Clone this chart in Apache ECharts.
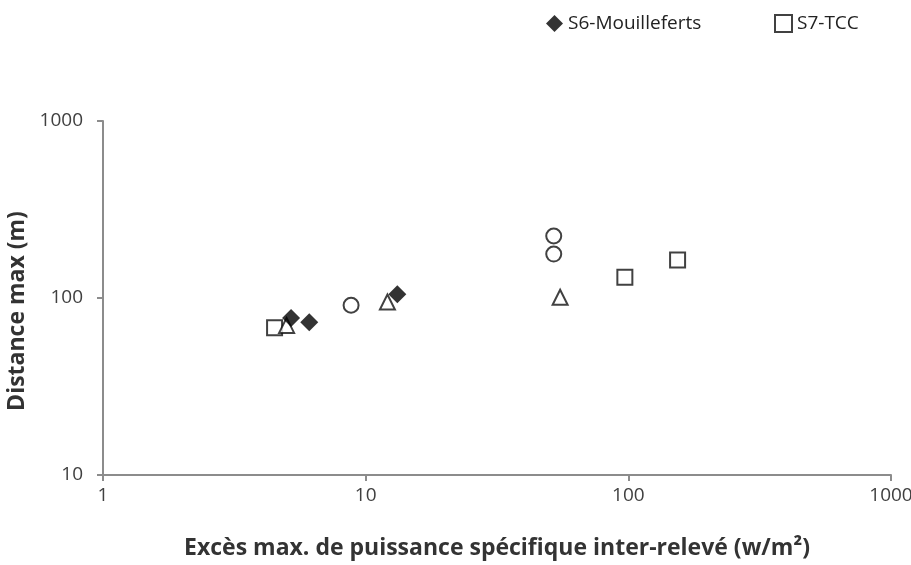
<!DOCTYPE html>
<html><head><meta charset="utf-8">
<script src="https://cdn.jsdelivr.net/npm/echarts@6/dist/echarts.min.js"></script>
<style>html,body{margin:0;padding:0;background:#fff}#c{width:911px;height:565px}</style>
</head><body><div id="c"></div>
<script>
const s6Mouilleferts = [[5.2, 77], [6.1, 73], [13.2, 105]];
const s7TCC = [[4.5, 68], [97, 131], [154, 164]];
const circles = [[8.8, 91], [52, 224], [52, 177]];
const triangles = [[5.0, 70], [12.1, 95], [55, 101]];
const xTicks = [1, 10, 100, 1000];
const yTicks = [10, 100, 1000];
const font = '"Open Sans", "Noto Sans", sans-serif';
const chart = echarts.init(document.getElementById('c'));
const legendText = {fontSize: 19, color: '#222', fontFamily: font};
chart.setOption({
  animation: false,
  textStyle: {fontFamily: font},
  grid: {left: 103, right: 20, top: 121, bottom: 90, containLabel: false, outerBoundsMode: 'none'},
  legend: [
    {data: ['S6-Mouilleferts'], top: 9, left: 541, itemWidth: 17, itemHeight: 17, itemGap: 0,
     textStyle: legendText},
    {data: ['S7-TCC'], top: 9, left: 769, itemWidth: 17, itemHeight: 17, itemGap: 0,
     textStyle: legendText}
  ],
  xAxis: {
    type: 'log', logBase: 10, min: xTicks[0], max: xTicks[xTicks.length-1],
    name: 'Excès max. de puissance spécifique inter-relevé (w/m²)',
    nameLocation: 'middle', nameGap: 62,
    nameTextStyle: {fontSize: 23, fontWeight: 'bold', color: '#333', fontFamily: font},
    axisLine: {lineStyle: {color: '#8c8c8c', width: 2}},
    axisTick: {show: true, length: 6, lineStyle: {color: '#8c8c8c', width: 2}},
    minorTick: {show: false},
    splitLine: {show: false},
    axisLabel: {fontSize: 19, color: '#404040', margin: 11, formatter: v => String(v)}
  },
  yAxis: {
    type: 'log', logBase: 10, min: yTicks[0], max: yTicks[yTicks.length-1],
    name: 'Distance max (m)', nameLocation: 'middle', nameGap: 54, nameRotate: 90,
    nameTextStyle: {fontSize: 23, fontWeight: 'bold', color: '#333', fontFamily: font,
                    padding: [0, 26, 0, 0]},
    axisLine: {show: true, lineStyle: {color: '#8c8c8c', width: 2}},
    axisTick: {show: true, length: 6, lineStyle: {color: '#8c8c8c', width: 2}},
    splitLine: {show: false},
    axisLabel: {fontSize: 19, color: '#404040', margin: 20, formatter: v => String(v)}
  },
  series: [
    {name: 'S7-TCC', type: 'scatter', data: s7TCC, symbol: 'rect', symbolSize: 15,
     itemStyle: {color: '#fff', borderColor: '#111', borderWidth: 2}},
    {name: 'Triangles', type: 'scatter', data: triangles, symbol: 'triangle', symbolSize: 15,
     itemStyle: {color: '#fff', borderColor: '#111', borderWidth: 2}},
    {name: 'S6-Mouilleferts', type: 'scatter', data: s6Mouilleferts, symbol: 'diamond', symbolSize: 18,
     itemStyle: {color: '#000', borderColor: '#000', borderWidth: 0}},
    {name: 'Circles', type: 'scatter', data: circles, symbol: 'circle', symbolSize: 15,
     itemStyle: {color: '#fff', borderColor: '#111', borderWidth: 2}}
  ]
});
</script></body></html>
